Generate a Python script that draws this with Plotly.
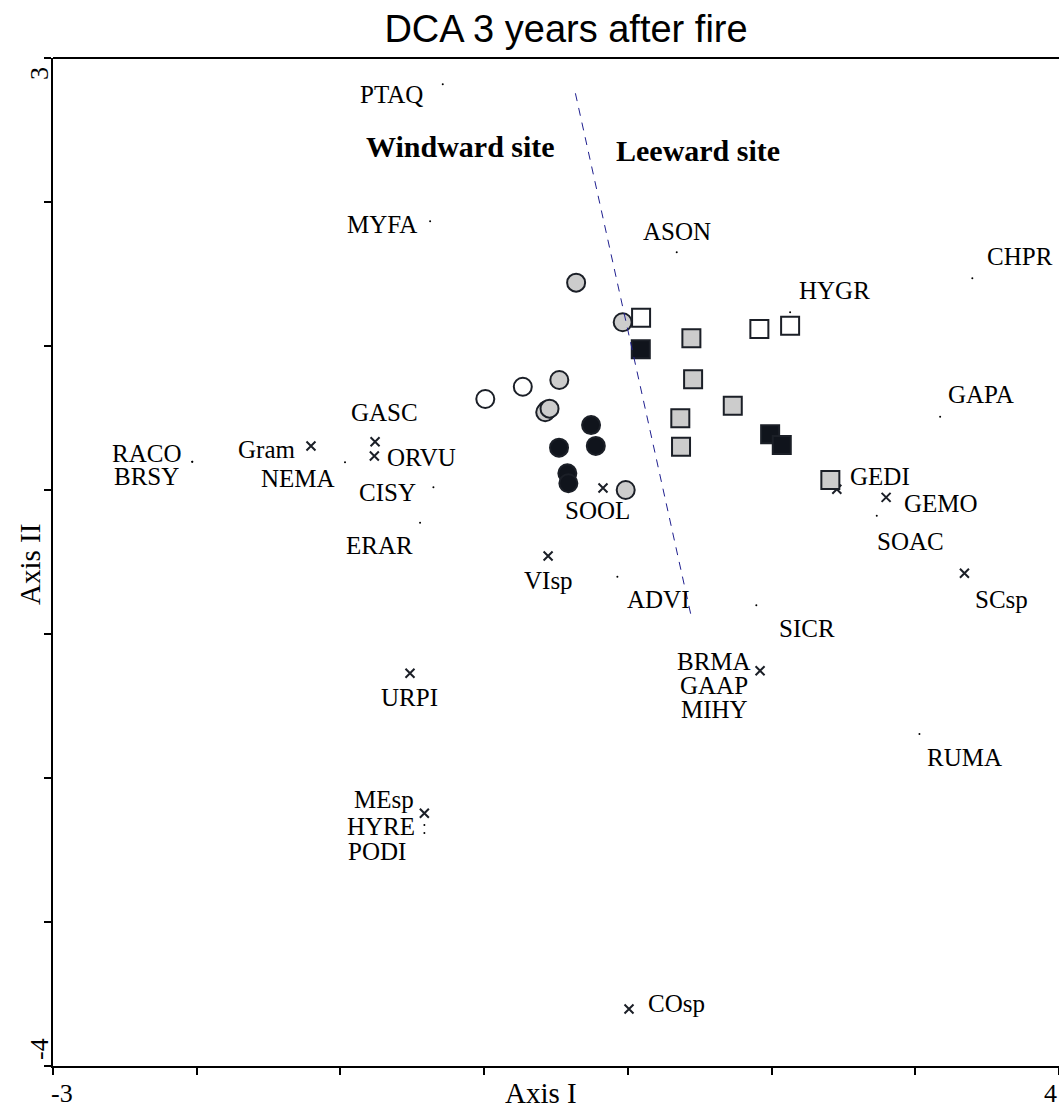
import plotly.graph_objects as go

# ---------------- data ----------------
# Sample (site) scores
circle_open_x = [0.008, 0.269, 0.438]
circle_open_y = [0.632, 0.717, 0.556]
circle_gray_x = [0.640, 0.964, 0.523, 0.425, 0.455, 0.985]
circle_gray_y = [1.440, 1.165, 0.764, 0.540, 0.565, 0.000]
circle_black_x = [0.744, 0.521, 0.777, 0.579, 0.586]
circle_black_y = [0.451, 0.294, 0.306, 0.116, 0.047]

square_open_x = [1.092, 1.915, 2.129]
square_open_y = [1.197, 1.118, 1.141]
square_gray_x = [1.442, 1.454, 1.730, 1.365, 1.370, 2.409]
square_gray_y = [1.053, 0.769, 0.585, 0.498, 0.301, 0.069]
square_black_x = [1.090, 1.990, 2.071]
square_black_y = [0.977, 0.387, 0.313]

# Species scores shown with a cross
cross_names = ["Gram", "GASC", "ORVU", "SOOL", "VIsp", "BRMA", "URPI", "MEsp", "COsp", "GEDI", "GEMO", "SCsp"]
cross_x = [-1.205, -0.759, -0.764, 0.827, 0.445, 1.920, -0.516, -0.416, 1.008, 2.454, 2.797, 3.342]
cross_y = [0.306, 0.335, 0.236, 0.014, -0.458, -1.255, -1.273, -2.245, -3.604, 0.005, -0.051, -0.578]

# Species scores shown with a small dot
dot_names = ["NEMA", "RACO", "BRSY", "CISY", "ERAR", "ADVI", "SICR", "GAAP", "MIHY", "HYRE", "PODI",
             "PTAQ", "MYFA", "ASON", "HYGR", "CHPR", "GAPA", "SOAC", "RUMA"]
dot_x = [-0.968, -2.031, -2.031, -0.353, -0.446, 0.927, 1.894, 1.920, 1.920, -0.416, -0.416,
         -0.288, -0.376, 1.340, 2.129, 3.397, 3.173, 2.732, 3.029]
dot_y = [0.192, 0.197, 0.197, 0.019, -0.227, -0.602, -0.801, -1.255, -1.255, -2.326, -2.382,
         2.817, 1.866, 1.651, 1.234, 1.470, 0.509, -0.178, -1.694]

# Dashed separation line (windward / leeward)
divider_x = [0.635, 1.445]
divider_y = [2.755, -0.896]

x_range = [-3, 4]
y_range = [-4, 3]
x_end_labels = ["-3", "4"]
y_end_labels = ["3", "-4"]

# ---------------- label offsets (pixels) ----------------
cross_offsets = {
    "Gram": (-44, 4), "GASC": (9, -29), "ORVU": (47, 1), "SOOL": (-5, 23), "VIsp": (0, 25),
    "BRMA": (-46, -9), "URPI": (0, 24), "MEsp": (-40, -14), "COsp": (47, -5),
    "GEDI": (43, -13), "GEMO": (55, 6), "SCsp": (37, 26),
}
dot_offsets = {
    "NEMA": (-47, 16), "RACO": (-46, -8), "BRSY": (-46, 15), "CISY": (-46, 5), "ERAR": (-41, 23),
    "ADVI": (41, 23), "SICR": (51, 23), "GAAP": (-46, 15), "MIHY": (-46, 39), "HYRE": (-43, 2),
    "PODI": (-47, 18), "PTAQ": (-51, 10), "MYFA": (-48, 3), "ASON": (0, -21), "HYGR": (44, -22),
    "CHPR": (48, -22), "GAPA": (41, -22), "SOAC": (34, 26), "RUMA": (45, 24),
}

SERIF = "Liberation Serif, Times New Roman, serif"
LAB = 25
TICKF = 26
OUT = "#1b1f27"
GRAY = "#cccccc"
BLACK = "#10141c"

W, H = 1059, 1108
ML, MT, MB = 53, 58, 42
PW = W - ML
PH = H - MT - MB

fig = go.Figure()

# species marks
fig.add_trace(go.Scatter(x=dot_x, y=dot_y, mode="markers",
                         marker=dict(size=2, color="black"), hoverinfo="skip"))
fig.add_trace(go.Scatter(x=cross_x, y=cross_y, mode="markers",
                         marker=dict(symbol="x-thin", size=9, line=dict(width=2, color=OUT), color=OUT),
                         hoverinfo="skip"))

def add_sites(xs, ys, symbol, fill):
    fig.add_trace(go.Scatter(x=xs, y=ys, mode="markers",
                             marker=dict(symbol=symbol, size=18, color=fill,
                                         line=dict(width=2, color=OUT)),
                             hoverinfo="skip"))

add_sites(circle_open_x, circle_open_y, "circle", "white")
add_sites(circle_gray_x, circle_gray_y, "circle", GRAY)
add_sites(circle_black_x, circle_black_y, "circle", BLACK)
add_sites(square_open_x, square_open_y, "square", "white")
add_sites(square_gray_x, square_gray_y, "square", GRAY)
add_sites(square_black_x, square_black_y, "square", BLACK)

fig.add_trace(go.Scatter(x=divider_x, y=divider_y, mode="lines",
                         line=dict(color="#1f1f8f", width=1, dash="8px,7px"), hoverinfo="skip"))

annotations = []
for n, x, y in zip(cross_names, cross_x, cross_y):
    dx, dy = cross_offsets[n]
    annotations.append(dict(x=x, y=y, text=n, showarrow=False, xshift=dx, yshift=-dy,
                            xanchor="center", yanchor="middle",
                            font=dict(family=SERIF, size=LAB, color="black")))
for n, x, y in zip(dot_names, dot_x, dot_y):
    dx, dy = dot_offsets[n]
    annotations.append(dict(x=x, y=y, text=n, showarrow=False, xshift=dx, yshift=-dy,
                            xanchor="center", yanchor="middle",
                            font=dict(family=SERIF, size=LAB, color="black")))

# group labels
annotations.append(dict(xref="paper", yref="paper", x=(460 - ML) / PW, y=1 - (146 - MT) / PH,
                        xanchor="center", yanchor="middle",
                        text="<b>Windward site</b>", showarrow=False,
                        font=dict(family=SERIF, size=30, color="black")))
annotations.append(dict(xref="paper", yref="paper", x=(698 - ML) / PW, y=1 - (150 - MT) / PH,
                        xanchor="center", yanchor="middle",
                        text="<b>Leeward site</b>", showarrow=False,
                        font=dict(family=SERIF, size=30, color="black")))

# axis titles
annotations.append(dict(xref="paper", yref="paper", x=(541 - ML) / PW, y=-(1093 - (H - MB)) / PH,
                        xanchor="center", yanchor="middle", text="Axis I", showarrow=False,
                        font=dict(family=SERIF, size=29, color="black")))
annotations.append(dict(xref="paper", yref="paper", x=-(ML - 30) / PW, y=1 - (565 - MT) / PH,
                        xanchor="center", yanchor="middle", text="Axis II", showarrow=False,
                        textangle=-90, font=dict(family=SERIF, size=29, color="black")))

# axis end labels
annotations.append(dict(x=x_range[0], y=y_range[0], text=x_end_labels[0], showarrow=False,
                        xanchor="center", yanchor="middle",
                        xshift=9, yshift=-27, font=dict(family=SERIF, size=TICKF, color="black")))
annotations.append(dict(x=x_range[1], y=y_range[0], text=x_end_labels[1], showarrow=False,
                        xanchor="center", yanchor="middle",
                        xshift=-9, yshift=-27, font=dict(family=SERIF, size=TICKF, color="black")))
annotations.append(dict(x=x_range[0], y=y_range[1], text=y_end_labels[0], showarrow=False, textangle=-90,
                        xanchor="center", yanchor="middle",
                        xshift=-14, yshift=-16, font=dict(family=SERIF, size=TICKF, color="black")))
annotations.append(dict(x=x_range[0], y=y_range[0], text=y_end_labels[1], showarrow=False, textangle=-90,
                        xanchor="center", yanchor="middle",
                        xshift=-14, yshift=17, font=dict(family=SERIF, size=TICKF, color="black")))

# top frame line
shapes = [dict(type="line", xref="paper", yref="paper", x0=0, x1=1, y0=1, y1=1,
               line=dict(color="black", width=2))]

fig.update_layout(
    width=W, height=H,
    margin=dict(l=ML, r=0, t=MT, b=MB),
    paper_bgcolor="white", plot_bgcolor="white",
    showlegend=False,
    title=dict(text="DCA 3 years after fire", x=566 / W, xanchor="center", y=1 - 29 / H, yanchor="middle",
               font=dict(family="Liberation Sans, Arial, sans-serif", size=38, color="black")),
    annotations=annotations,
    shapes=shapes,
)
fig.update_xaxes(range=x_range, showgrid=False, zeroline=False, showline=True, linecolor="black", linewidth=2,
                 ticks="outside", ticklen=7, tickwidth=1.5, tickcolor="black", dtick=1, tick0=-3,
                 showticklabels=False)
fig.update_yaxes(range=y_range, showgrid=False, zeroline=False, showline=True, linecolor="black", linewidth=2,
                 ticks="outside", ticklen=7, tickwidth=1.5, tickcolor="black", dtick=1, tick0=-4,
                 showticklabels=False)

fig.write_html("out.html",
               config={"displayModeBar": False},
               post_script="document.body.style.margin='0';"
                           "document.body.style.overflow='hidden';"
                           "document.documentElement.style.overflow='hidden';")
